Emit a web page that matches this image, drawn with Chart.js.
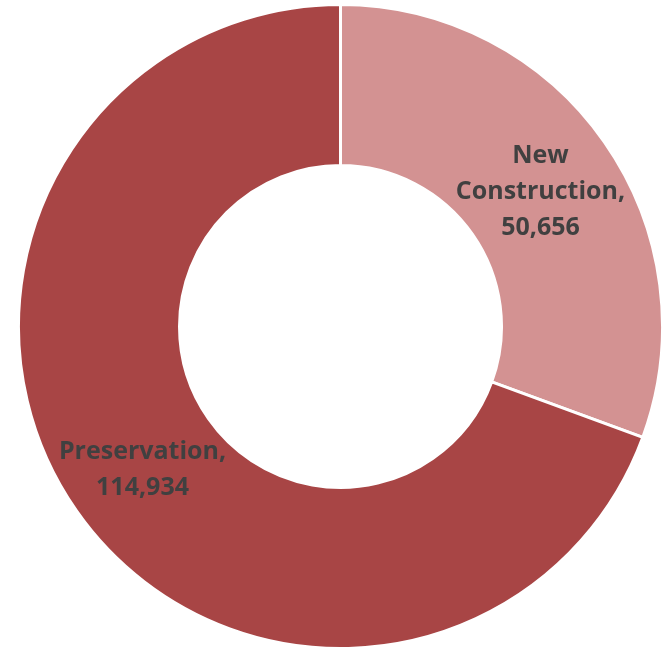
<!DOCTYPE html>
<html>
<head>
<meta charset="utf-8">
<script src="https://cdn.jsdelivr.net/npm/chart.js@4.4.0/dist/chart.umd.min.js"></script>
<style>
  body { margin: 0; background: #fff; }
  #wrap { width: 665px; height: 650px; }
</style>
</head>
<body>
<div id="wrap"><canvas id="myChart"></canvas></div>
<script>
// data
var labels = ['New Construction', 'Preservation'];
var values = [50656, 114934];
var colors = ['#D39292', '#A84545'];

// draws "Name,\nvalue" in the middle of each slice
var sliceLabels = {
    id: 'sliceLabels',
    afterDatasetsDraw: function (chart) {
        var ctx = chart.ctx;
        var meta = chart.getDatasetMeta(0);
        ctx.save();
        ctx.fillStyle = '#404040';
        ctx.font = 'bold 25px "Open Sans"';
        ctx.textAlign = 'center';
        ctx.textBaseline = 'middle';
        meta.data.forEach(function (arc, i) {
            var pos = arc.tooltipPosition();
            var lines, dx = 0, dy = 0;
            if (i === 0) {
                lines = ['New', 'Construction,', values[i].toLocaleString('en-US')];
                dx = 2; dy = 4;
            } else {
                lines = [labels[i] + ',', values[i].toLocaleString('en-US')];
                dy = 5;
            }
            var lh = 36;
            var y0 = pos.y + dy - (lines.length - 1) * lh / 2;
            lines.forEach(function (t, k) {
                ctx.fillText(t, pos.x + dx, y0 + k * lh);
            });
        });
        ctx.restore();
    }
};

const ctx = document.getElementById('myChart').getContext('2d');
new Chart(ctx, {
    type: 'doughnut',
    data: {
        labels: labels,
        datasets: [{
            data: values,
            backgroundColor: colors,
            borderColor: '#ffffff',
            borderWidth: 3
        }]
    },
    options: {
        responsive: true,
        maintainAspectRatio: false,
        animation: false,
        cutout: '50%',
        layout: { padding: { left: 16, right: 0, top: 3, bottom: 0 } },
        plugins: {
            legend: { display: false },
            tooltip: { enabled: false }
        }
    },
    plugins: [sliceLabels]
});
</script>
</body>
</html>
